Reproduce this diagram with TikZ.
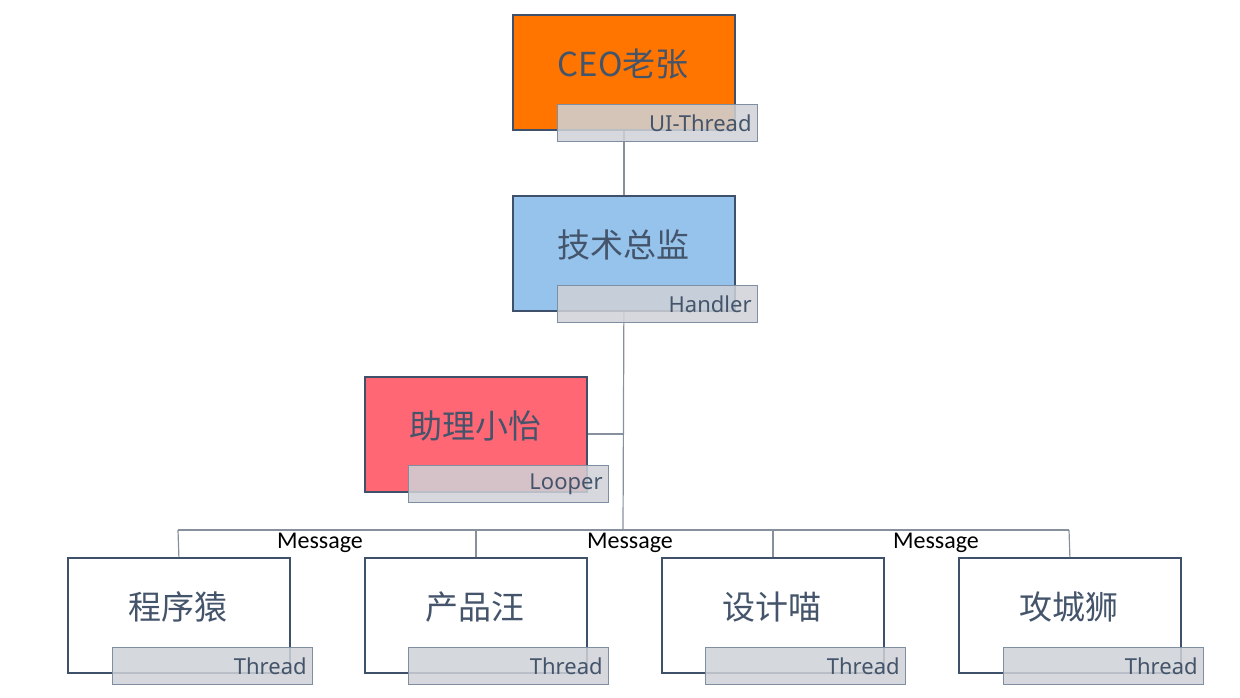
\documentclass[tikz,border=0pt]{standalone}
\usepackage{fontspec}
\newfontfamily\cjk{Noto Sans CJK SC}
\newfontfamily\lblfont{Noto Sans}
\newfontfamily\msgfont{Carlito}
\usetikzlibrary{positioning,calc}
\definecolor{ceoorange}{RGB}{255,117,0}
\definecolor{techblue}{RGB}{149,195,236}
\definecolor{asstred}{RGB}{255,103,117}
\definecolor{boxborder}{RGB}{62,80,106}
\definecolor{txtcol}{RGB}{68,84,106}
\definecolor{lblfill}{RGB}{207,210,215}
\definecolor{lblborder}{RGB}{128,142,162}
\definecolor{linecol}{RGB}{135,145,158}
\tikzset{
  mainbox/.style={draw=boxborder, line width=1.8pt, minimum width=222pt, minimum height=115pt, inner sep=0pt, anchor=north west},
  maintext/.style={font=\cjk\fontsize{33}{36}\selectfont, text=txtcol, inner sep=0pt},
  lblbox/.style={draw=lblborder, line width=1.2pt, fill=lblfill, fill opacity=0.86, text opacity=1, text=txtcol,
    minimum width=200pt, minimum height=37pt, text width=188pt, align=right, inner xsep=6pt, inner ysep=0pt,
    anchor=north west, font=\lblfont\fontsize{22}{24}\selectfont},
  conn/.style={draw=linecol, line width=1.2pt},
  msg/.style={font=\msgfont\fontsize{24}{26}\selectfont, text=black, inner sep=0pt}
}
\begin{document}
\begin{tikzpicture}[x=1pt,y=-1pt]
\useasboundingbox (0,0) rectangle (1240,698);
% main boxes
\node[mainbox, fill=ceoorange] (ceo) at (512,14) {};
\node[mainbox, fill=techblue] (tech) at (512,195) {};
\node[mainbox, fill=asstred] (asst) at (364,376) {};
\node[mainbox, fill=white] (w1) at (67,557) {};
\node[mainbox, fill=white] (w2) at (364,557) {};
\node[mainbox, fill=white] (w3) at (661,557) {};
\node[mainbox, fill=white] (w4) at (958,557) {};
% main texts
\node[maintext] (ceoT) at (623,64) {CEO老张};
\node[maintext] (techT) at (623,245) {技术总监};
\node[maintext] (asstT) at (475,426) {助理小怡};
\node[maintext] (w1T) at (178,607) {程序猿};
\node[maintext] (w2T) at (475,607) {产品汪};
\node[maintext] (w3T) at (772,607) {设计喵};
\node[maintext] (w4T) at (1069,607) {攻城狮};
% connectors
\coordinate (junc) at (623,530);
\coordinate (ajunc) at (623,434);
\coordinate (hl) at (178,530);
\coordinate (hr) at (1069,530);
\draw[conn] (ceo.south) -- (tech.north);
\draw[conn] (tech.south) -- (junc);
\draw[conn] (asst.east |- ajunc) -- (ajunc);
\draw[conn] (hl) -- (hr);
\draw[conn] (hl) -- (w1.north);
\draw[conn] (w2.north |- hl) -- (w2.north);
\draw[conn] (w3.north |- hl) -- (w3.north);
\draw[conn] (hr) -- (w4.north);
% labels
\node[lblbox] (ceoL) at (557,104) {UI-Thread};
\node[lblbox] (techL) at (557,285) {Handler};
\node[lblbox] (asstL) at (408,465) {Looper};
\node[lblbox] (w1L) at (112,647) {Thread};
\node[lblbox] (w2L) at (408,647) {Thread};
\node[lblbox] (w3L) at (705,647) {Thread};
\node[lblbox] (w4L) at (1003,647) {Thread};
% messages
\node[msg] (m1) at (320,543) {Message};
\node[msg] (m2) at (630,543) {Message};
\node[msg] (m3) at (936,543) {Message};
\end{tikzpicture}
\end{document}
